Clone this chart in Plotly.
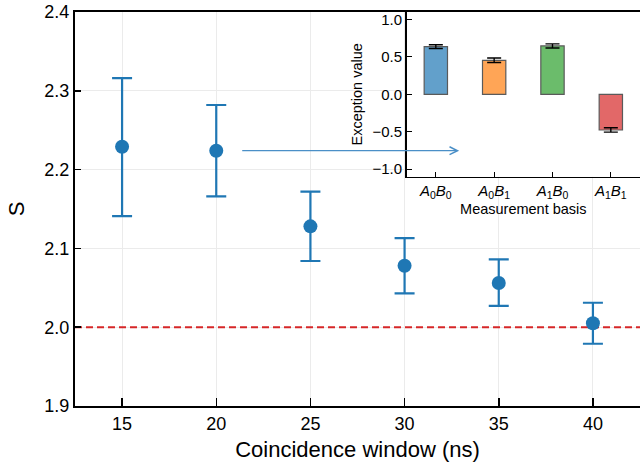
import plotly.graph_objects as go

# ---- main data ----
windows_ns = [15, 20, 25, 30, 35, 40]
S_values = [2.229, 2.224, 2.128, 2.078, 2.056, 2.005]
S_err_plus = [0.087, 0.058, 0.044, 0.035, 0.030, 0.026]
S_err_minus = [0.088, 0.058, 0.044, 0.035, 0.029, 0.026]
classical_bound = 2.0

# ---- inset data ----
bases = ["<i>A</i><sub>0</sub><i>B</i><sub>0</sub>",
         "<i>A</i><sub>0</sub><i>B</i><sub>1</sub>",
         "<i>A</i><sub>1</sub><i>B</i><sub>0</sub>",
         "<i>A</i><sub>1</sub><i>B</i><sub>1</sub>"]
expectations = [0.638, 0.455, 0.647, -0.476]
exp_err = [0.025, 0.030, 0.027, 0.029]
bar_colors = ["#62a0cb", "#ffa556", "#6bbc6b", "#e26868"]
inset_x_range = [-0.5, 3.5]
inset_y_range = [-1.1, 1.1]

FONT = "Liberation Sans, Arial, sans-serif"

fig = go.Figure()

# main scatter with error bars
fig.add_trace(go.Scatter(
    x=windows_ns, y=S_values, mode="markers",
    marker=dict(size=14, color="#1f77b4"),
    error_y=dict(type="data", symmetric=False, array=S_err_plus, arrayminus=S_err_minus,
                 color="#1f77b4", thickness=2.2, width=10),
    xaxis="x", yaxis="y", showlegend=False,
))

# inset bars
fig.add_trace(go.Bar(
    x=list(range(len(bases))), y=expectations, width=0.4,
    marker=dict(color=bar_colors, line=dict(color="#5a5a5a", width=1.2)),
    error_y=dict(type="data", array=exp_err, color="black", thickness=1.4, width=7),
    xaxis="x2", yaxis="y2", showlegend=False,
))

fig.update_layout(
    width=640, height=468,
    margin=dict(l=75, r=0, t=12, b=62),
    paper_bgcolor="white", plot_bgcolor="white",
    font=dict(family=FONT, color="black"),
    xaxis=dict(
        domain=[0, 1], range=[12.5, 42.5], automargin=False,
        tickvals=windows_ns, ticks="inside", ticklen=8, tickwidth=1.5, tickcolor="black",
        showline=True, linecolor="black", linewidth=2, mirror=True,
        showgrid=True, gridcolor="#ebebeb", gridwidth=1, zeroline=False,
        tickfont=dict(size=18),
        title=dict(text="Coincidence window (ns)", font=dict(size=22), standoff=9),
    ),
    yaxis=dict(
        domain=[0, 1], range=[1.9, 2.4], dtick=0.1, tickformat=".1f", automargin=False,
        ticks="inside", ticklen=6, tickwidth=1.5, tickcolor="black",
        showline=True, linecolor="black", linewidth=2, mirror=False,
        showgrid=True, gridcolor="#ebebeb", gridwidth=1, zeroline=False,
        tickfont=dict(size=18),
        title=dict(text="S", font=dict(size=22), standoff=14),
    ),
    xaxis2=dict(
        domain=[0.587, 1.0], range=inset_x_range, anchor="y2", automargin=False,
        tickvals=list(range(len(bases))), ticktext=bases,
        ticks="inside", ticklen=5, tickwidth=1, tickcolor="black",
        showline=True, linecolor="black", linewidth=1.5, mirror=True,
        showgrid=False, zeroline=False,
        tickfont=dict(size=15),
        title=dict(text="Measurement basis", font=dict(size=14.5), standoff=3),
    ),
    yaxis2=dict(
        domain=[0.582, 1.0], range=inset_y_range, anchor="x2", automargin=False,
        tickvals=[-1, -0.5, 0, 0.5, 1], tickformat=".1f",
        ticks="inside", ticklen=5, tickwidth=1, tickcolor="black",
        showline=True, linecolor="black", linewidth=1.5, mirror=False,
        showgrid=False, zeroline=True, zerolinecolor="black", zerolinewidth=2,
        tickfont=dict(size=15),
        title=dict(text="Exception value", font=dict(size=14.5), standoff=6),
    ),
    shapes=[
        dict(type="rect", xref="x2", yref="y2",
             x0=inset_x_range[0], x1=inset_x_range[1],
             y0=inset_y_range[0], y1=inset_y_range[1],
             fillcolor="white", line=dict(width=0), layer="between"),
        dict(type="line", xref="x", yref="y", x0=12.5, x1=42.5,
             y0=classical_bound, y1=classical_bound,
             line=dict(color="#d62728", width=2, dash="7px,4px"), layer="between"),
    ],
    annotations=[
        dict(x=32.9, y=S_values[1], ax=21.3, ay=S_values[1], xref="x", yref="y",
             axref="x", ayref="y", text="", showarrow=True,
             arrowhead=5, arrowsize=1.2, arrowwidth=1.3, arrowcolor="#4a8fc7"),
    ],
)

fig.write_html("out.html", config={"displayModeBar": False, "staticPlot": True},
               post_script="document.body.style.margin='0px';document.body.style.overflow='hidden';")
